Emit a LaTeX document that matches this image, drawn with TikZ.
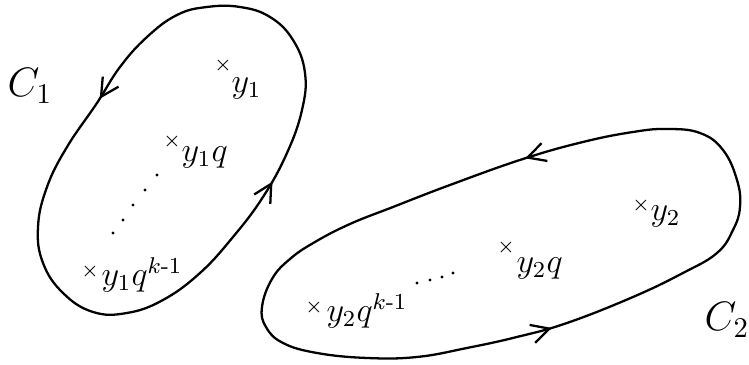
\documentclass[tikz,border=0pt]{standalone}
\usepackage{amsmath,amssymb}
\usetikzlibrary{arrows.meta,decorations.markings}

\newcommand{\contourtip}{\arrow{Straight Barb[length=2.2mm,width=2.3mm,line width=0.8pt]}}

\tikzset{
  contour/.style={line width=0.8pt, line join=round},
  barbs/.style 2 args={decoration={markings,
      mark=at position #1 with {\contourtip},
      mark=at position #2 with {\contourtip}},
    postaction={decorate}},
  pt/.style={font=\large, inner sep=0pt, anchor=west},
  cross/.style={font=\scriptsize, inner sep=0pt},
  loopname/.style={font=\Large, inner sep=0pt},
}

\begin{document}
\begin{tikzpicture}[x=0.35pt,y=-0.35pt]
  \useasboundingbox (0,0) rectangle (749,365);

  % contour C_1 (the closed plot starts at its second point)
  \draw[contour, barbs={0.166}{0.719}] plot[smooth cycle, tension=0.7] coordinates {
    (240,7) (207,7) (177,15) (147,37) (120,67) (97,103) (67,147) (47,187)
    (38,227) (43,263) (63,293) (93,312) (127,313) (163,300) (200,273)
    (233,237) (263,197) (287,153) (302,110) (305,73) (293,40) (270,17)};

  % contour C_2
  \draw[contour, barbs={0.128}{0.685}] plot[smooth cycle, tension=0.7] coordinates {
    (700,133) (667,129) (633,132) (583,142) (523,159) (450,185) (393,207)
    (350,224) (315,242) (290,259) (272,279) (262,307) (266,327) (283,343)
    (317,353) (367,358) (417,357) (467,348) (517,337) (567,323) (633,297)
    (683,273) (717,253) (733,230) (740,207) (737,180) (723,150)};

  \node[loopname] (c1) at (30,86) {$C_1$};
  \node[loopname] (c2) at (727,320) {$C_2$};

  % points inside C_1
  \node[cross] (x11) at (223,66) {$\times$};
  \node[pt] (y11) at (231,88) {$y_1$};
  \node[cross] (x12) at (172,142) {$\times$};
  \node[pt] (y12) at (181,157) {$y_1q$};
  \node[cross] (x13) at (90,272) {$\times$};
  \node[pt] (y13) at (101,275) {$y_1q^{k\text{-}1}$};
  \foreach \p in {(113,233),(123,220),(133,205),(145,190),(157,175)}
    \fill \p circle (0.55pt);

  % points inside C_2
  \node[cross] (x21) at (641,206) {$\times$};
  \node[pt] (y21) at (650,216) {$y_2$};
  \node[cross] (x22) at (506,248) {$\times$};
  \node[pt] (y22) at (516,268) {$y_2q$};
  \node[cross] (x23) at (314,308) {$\times$};
  \node[pt] (y23) at (326,311) {$y_2q^{k\text{-}1}$};
  \foreach \p in {(417,283),(430,280),(442,277),(453,273)}
    \fill \p circle (0.55pt);
\end{tikzpicture}
\end{document}
